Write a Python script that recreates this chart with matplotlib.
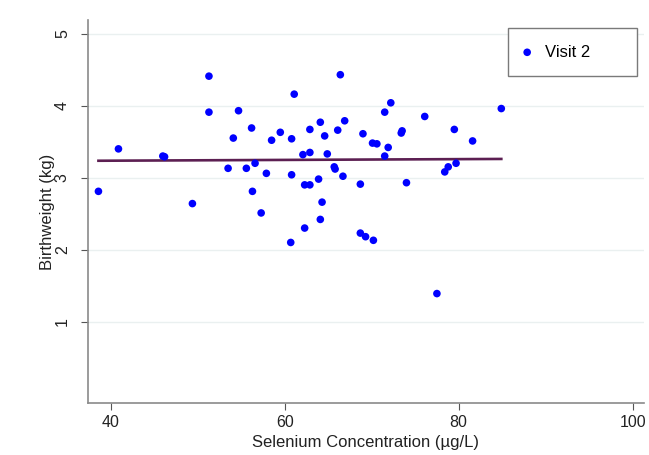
import matplotlib.pyplot as plt

plt.rcParams['font.family'] = ['Liberation Sans', 'DejaVu Sans']

# Visit 2 data
selenium = [38.6, 40.9, 46.0, 46.2, 49.4, 51.3, 51.3, 53.5, 54.1, 54.7,
            55.6, 56.2, 56.3, 56.6, 57.3, 57.9, 58.5, 59.5, 60.7, 60.8,
            60.8, 61.1, 62.1, 62.3, 62.3, 62.9, 62.9, 62.9, 63.9, 64.1,
            64.1, 64.3, 64.6, 64.9, 65.7, 65.8, 66.1, 66.4, 66.7, 66.9,
            68.7, 68.7, 69.0, 69.3, 70.1, 70.2, 70.6, 71.5, 71.5, 71.9,
            72.2, 73.4, 73.5, 74.0, 76.1, 77.5, 78.4, 78.8, 79.5, 79.7,
            81.6, 84.9]
birthweight = [2.81, 3.40, 3.30, 3.29, 2.64, 4.41, 3.91, 3.13, 3.55, 3.93,
               3.13, 3.69, 2.81, 3.20, 2.51, 3.06, 3.52, 3.63, 2.10, 3.54,
               3.04, 4.16, 3.32, 2.90, 2.30, 3.35, 2.90, 3.67, 2.98, 3.77,
               2.42, 2.66, 3.58, 3.33, 3.15, 3.12, 3.66, 4.43, 3.02, 3.79,
               2.91, 2.23, 3.61, 2.18, 3.48, 2.13, 3.47, 3.30, 3.91, 3.42,
               4.04, 3.62, 3.65, 2.93, 3.85, 1.39, 3.08, 3.15, 3.67, 3.20,
               3.51, 3.96]

# fitted line (ends)
fit_x = [38.6, 84.9]
fit_y = [3.235, 3.26]

fig = plt.figure(figsize=(6.49, 4.55), dpi=100)
ax = fig.add_axes([88 / 649, 1 - 403 / 455, 556 / 649, 383 / 455])

ax.plot(fit_x, fit_y, color='#5c1f52', lw=1.9, zorder=2)
ax.scatter(selenium, birthweight, s=30, color='#0000ff', edgecolors='none',
           zorder=3, label='Visit 2')

ax.set_xlim(37.4, 101.3)
ax.set_ylim(-0.13, 5.19)
ax.set_xticks([40, 60, 80, 100])
ax.set_yticks([1, 2, 3, 4, 5])
ax.grid(axis='y', color='#eaf0f0', lw=1)
ax.set_axisbelow(True)

for s in ['top', 'right']:
    ax.spines[s].set_visible(False)
for s in ['left', 'bottom']:
    ax.spines[s].set_color('#8a8a8a')
    ax.spines[s].set_linewidth(1.2)

ax.tick_params(axis='both', colors='#555555', length=5, labelsize=11.5,
               labelcolor='#222222')
ax.tick_params(axis='y', pad=8)
plt.setp(ax.get_yticklabels(), rotation=90, va='center')

ax.set_xlabel('Selenium Concentration (µg/L)', fontsize=12, color='#222222',
              labelpad=4)
ax.set_ylabel('Birthweight (kg)', fontsize=12, color='#222222', labelpad=0)

leg = ax.legend(loc='upper left', mode='expand', fontsize=12,
                bbox_to_anchor=(508 / 649, 1 - 80 / 455, 129 / 649, 52 / 455),
                bbox_transform=fig.transFigure, fancybox=False,
                borderaxespad=0, borderpad=1.0, handlelength=0.3,
                handletextpad=0.9, framealpha=1, scatterpoints=1)
leg.get_frame().set_edgecolor('#7a7a7a')
leg.get_frame().set_linewidth(1.0)

fig.savefig('out.png', dpi=100)
